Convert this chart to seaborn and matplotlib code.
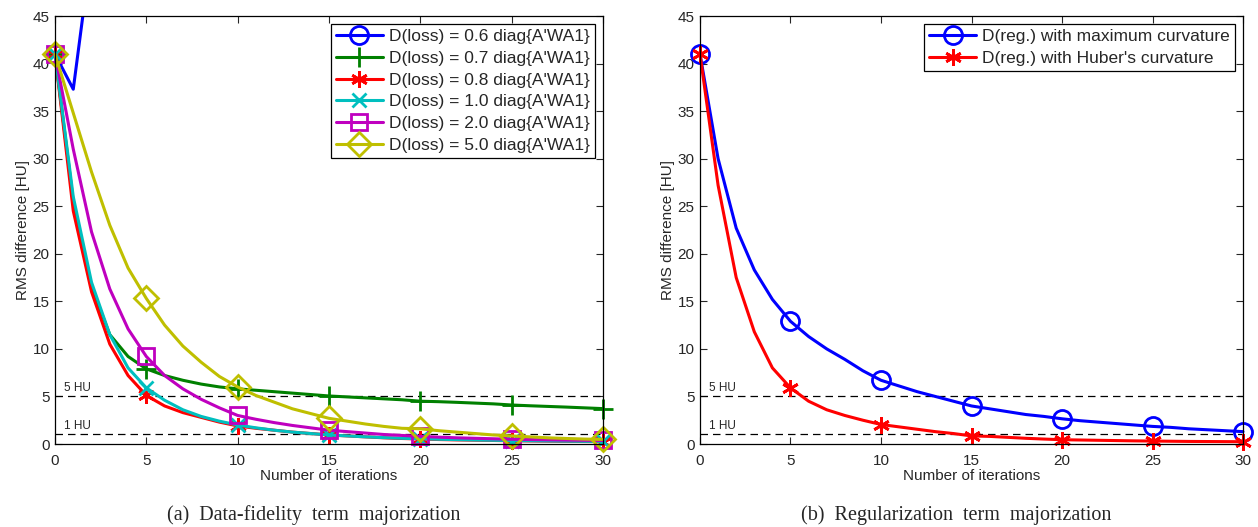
import numpy as np
import pandas as pd
import matplotlib
matplotlib.use("Agg")
import matplotlib.pyplot as plt
import seaborn as sns

# ---------------- data ----------------
iterations = list(range(31))

loss_labels = ["D(loss) = 0.6 diag{A'WA1}", "D(loss) = 0.7 diag{A'WA1}",
               "D(loss) = 0.8 diag{A'WA1}", "D(loss) = 1.0 diag{A'WA1}",
               "D(loss) = 2.0 diag{A'WA1}", "D(loss) = 5.0 diag{A'WA1}"]

loss_06 = [41, 37.3, 52, 68, 85, 100, 115, 130, 145, 160, 175, 190, 205, 220, 235, 250,
           265, 280, 295, 310, 325, 340, 355, 370, 385, 400, 415, 430, 445, 460, 475]
loss_07 = [41, 25.5, 16.5, 11.5, 9.2, 7.9, 7.2, 6.7, 6.3, 6.0, 5.8, 5.65, 5.5, 5.35, 5.2, 5.05,
           4.95, 4.85, 4.75, 4.65, 4.5, 4.45, 4.38, 4.3, 4.22, 4.1, 4.02, 3.95, 3.88, 3.8, 3.72]
loss_08 = [41, 24.5, 16.0, 10.5, 7.2, 5.1, 4.0, 3.3, 2.8, 2.3, 1.9, 1.65, 1.45, 1.25, 1.1, 0.95,
           0.85, 0.75, 0.65, 0.58, 0.52, 0.47, 0.43, 0.4, 0.37, 0.34, 0.32, 0.3, 0.28, 0.26, 0.25]
loss_10 = [41, 26.0, 17.0, 11.5, 8.0, 5.9, 4.6, 3.6, 2.9, 2.4, 2.0, 1.7, 1.45, 1.25, 1.1, 0.95,
           0.85, 0.75, 0.67, 0.6, 0.55, 0.5, 0.46, 0.42, 0.39, 0.36, 0.34, 0.32, 0.3, 0.28, 0.27]
loss_20 = [41, 31.0, 22.3, 16.3, 12.1, 9.2, 7.2, 5.8, 4.7, 3.8, 3.0, 2.6, 2.25, 1.95, 1.7, 1.45,
           1.3, 1.15, 1.0, 0.9, 0.8, 0.72, 0.65, 0.6, 0.55, 0.5, 0.47, 0.44, 0.41, 0.39, 0.37]
loss_50 = [41, 34.8, 28.6, 23.0, 18.5, 15.3, 12.5, 10.3, 8.6, 7.1, 6.0, 5.1, 4.4, 3.7, 3.2, 2.7,
           2.4, 2.1, 1.85, 1.65, 1.6, 1.4, 1.25, 1.1, 0.95, 0.85, 0.75, 0.65, 0.58, 0.52, 0.48]

reg_labels = ["D(reg.) with maximum curvature", "D(reg.) with Huber's curvature"]
reg_max = [41, 30.0, 22.7, 18.3, 15.2, 12.9, 11.3, 10.0, 8.9, 7.7, 6.7, 6.1, 5.5, 5.0, 4.5, 4.0,
           3.7, 3.4, 3.1, 2.9, 2.65, 2.45, 2.3, 2.15, 2.0, 1.85, 1.75, 1.6, 1.5, 1.4, 1.3]
reg_huber = [41, 27.2, 17.5, 11.8, 8.0, 5.9, 4.5, 3.6, 3.0, 2.5, 2.05, 1.8, 1.55, 1.3, 1.1, 0.85,
             0.8, 0.7, 0.6, 0.52, 0.45, 0.42, 0.39, 0.36, 0.33, 0.31, 0.29, 0.27, 0.26, 0.25, 0.24]

ref_levels = [5, 1]
ref_texts = ["5 HU", "1 HU"]
captions = ["(a)  Data-fidelity  term  majorization", "(b)  Regularization  term  majorization"]

# ---------------- style ----------------
sns.set_style("ticks")
plt.rcParams['font.family'] = ['Liberation Sans', 'DejaVu Sans']

fig = plt.figure(figsize=(12.58, 5.27), dpi=100)
W, H = 1258, 527
ax1 = fig.add_axes([55 / W, 1 - 444 / H, (603 - 55) / W, (444 - 16) / H])
ax2 = fig.add_axes([700 / W, 1 - 444 / H, (1243 - 700) / W, (444 - 16) / H])

loss_series = [loss_06, loss_07, loss_08, loss_10, loss_20, loss_50]
loss_colors = [(0, 0, 1), (0, 0.5, 0), (1, 0, 0), (0, 0.75, 0.75), (0.75, 0, 0.75), (0.75, 0.75, 0)]
loss_markers = ['o', '+', (6, 2, 0), 'x', 's', 'D']
loss_ms = [13, 14, 12, 10, 11, 12]
loss_clip = [True, False, False, False, False, False]

for vals, lab, col, mk, ms, clip in zip(loss_series, loss_labels, loss_colors, loss_markers,
                                        loss_ms, loss_clip):
    df = pd.DataFrame({"iter": iterations, "rms": vals})
    sns.lineplot(data=df, x="iter", y="rms", ax=ax1, color=col, linewidth=2.2,
                 marker=mk, markevery=5, markersize=ms, markerfacecolor='none',
                 markeredgecolor=col, markeredgewidth=2.0, label=lab, clip_on=clip)

reg_series = [reg_max, reg_huber]
reg_colors = [(0, 0, 1), (1, 0, 0)]
reg_markers = ['o', (6, 2, 0)]
reg_ms = [13, 12]
for vals, lab, col, mk, ms in zip(reg_series, reg_labels, reg_colors, reg_markers, reg_ms):
    df = pd.DataFrame({"iter": iterations, "rms": vals})
    sns.lineplot(data=df, x="iter", y="rms", ax=ax2, color=col, linewidth=2.2,
                 marker=mk, markevery=5, markersize=ms, markerfacecolor='none',
                 markeredgecolor=col, markeredgewidth=2.0, label=lab, clip_on=False)

for ax, cap in zip([ax1, ax2], captions):
    ax.set_xlim(0, 30)
    ax.set_ylim(0, 45)
    ax.set_xticks(range(0, 31, 5))
    ax.set_yticks(range(0, 46, 5))
    ax.tick_params(direction='in', top=True, right=True, labelsize=11, length=5, width=0.8)
    ax.tick_params(axis='x', pad=7)
    ax.tick_params(axis='y', pad=4)
    for s in ax.spines.values():
        s.set_linewidth(0.9)
        s.set_color('black')
    ax.set_xlabel("Number of iterations", fontsize=11, labelpad=1)
    ax.set_ylabel("RMS difference [HU]", fontsize=11, labelpad=2)
    for lvl, t in zip(ref_levels, ref_texts):
        ax.axhline(lvl, color='black', linestyle=(0, (6, 4)), linewidth=0.9, zorder=1)
        ax.text(0.5, lvl + 0.3, t, fontsize=8.5, ha='left', va='bottom')
    leg = ax.legend(loc='upper right', fontsize=12.5, frameon=True, fancybox=False,
                    edgecolor='black', framealpha=1, handlelength=2.7,
                    borderpad=0.3, labelspacing=0.38, handletextpad=0.35,
                    borderaxespad=0.45)
    leg.get_frame().set_linewidth(0.9)
    ax.text(0.5 - 15 / 548, (444 - 515) / 428, cap, transform=ax.transAxes, ha='center',
            va='center', fontsize=14.5, family=['Liberation Serif', 'DejaVu Serif'])

fig.savefig("out.png", dpi=100)
